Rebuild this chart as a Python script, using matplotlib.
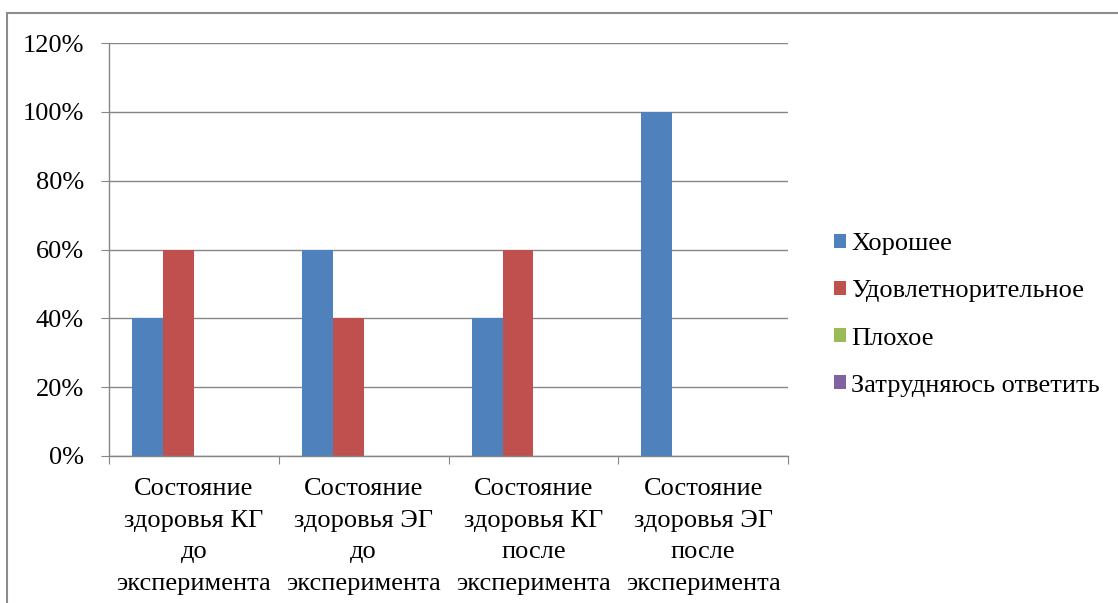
import matplotlib
matplotlib.use("Agg")
import matplotlib.pyplot as plt
from matplotlib.patches import Rectangle
from matplotlib.ticker import PercentFormatter
import numpy as np

categories = ["Состояние\nздоровья КГ\nдо\nэксперимента",
              "Состояние\nздоровья ЭГ\nдо\nэксперимента",
              "Состояние\nздоровья КГ\nпосле\nэксперимента",
              "Состояние\nздоровья ЭГ\nпосле\nэксперимента"]
series_names = ["Хорошее", "Удовлетнорительное", "Плохое", "Затрудняюсь ответить"]
good = [40, 60, 40, 100]
satisf = [60, 40, 60, 0]
bad = [0, 0, 0, 0]
hard = [0, 0, 0, 0]
colors = ["#4F81BD", "#C0504D", "#9BBB59", "#8064A2"]
yticks = [0, 20, 40, 60, 80, 100, 120]

plt.rcParams['font.family'] = ['Liberation Serif', 'DejaVu Serif']
fig = plt.figure(figsize=(11.18, 6.03), dpi=100)
W, H = 1118, 603
ax = fig.add_axes([109 / W, 1 - 456 / H, (788 - 109) / W, (456 - 43) / H])

# outer frame
fig.patches.append(Rectangle((7 / W, -0.1), 1.2, 1 - 13 / H + 0.1, transform=fig.transFigure,
                             fill=False, edgecolor="#8c8c8c", linewidth=1.5))

data = [good, satisf, bad, hard]
n = len(data)
w = 1 / (n + 1.5)
x = np.arange(len(categories))
for i, (vals, c, name) in enumerate(zip(data, colors, series_names)):
    ax.bar(x + 0.75 * w + (i + 0.5) * w, vals, width=w, color=c, label=name, align="center")

FS = 19
ax.set_xlim(0, len(categories))
ax.set_ylim(0, 120)
ax.set_yticks(yticks)
ax.yaxis.set_major_formatter(PercentFormatter(decimals=0))
ax.set_xticks(np.arange(len(categories) + 1))
ax.set_xticklabels([])
ax.set_xticks(x + 0.5, minor=True)
ax.set_xticklabels(categories, minor=True, fontsize=FS, linespacing=1.56)
ax.tick_params(axis="x", which="minor", length=0, pad=16)
ax.tick_params(axis="x", which="major", length=6, color="#868686", direction="out")
ax.tick_params(axis="y", length=6, color="#868686", labelsize=FS, pad=12)
ax.grid(axis="y", color="#868686", linewidth=1)
ax.set_axisbelow(True)
for s in ["top", "right"]:
    ax.spines[s].set_visible(False)
for s in ["left", "bottom"]:
    ax.spines[s].set_color("#868686")
    ax.spines[s].set_linewidth(1)

leg = fig.legend(loc="center left", bbox_to_anchor=(821 / W, 1 - 315 / H), frameon=False,
                 fontsize=FS, handlelength=0.45, handleheight=0.45, handletextpad=0.2,
                 labelspacing=0.95, borderpad=0)

fig.savefig("out.png", dpi=100, facecolor="white")
